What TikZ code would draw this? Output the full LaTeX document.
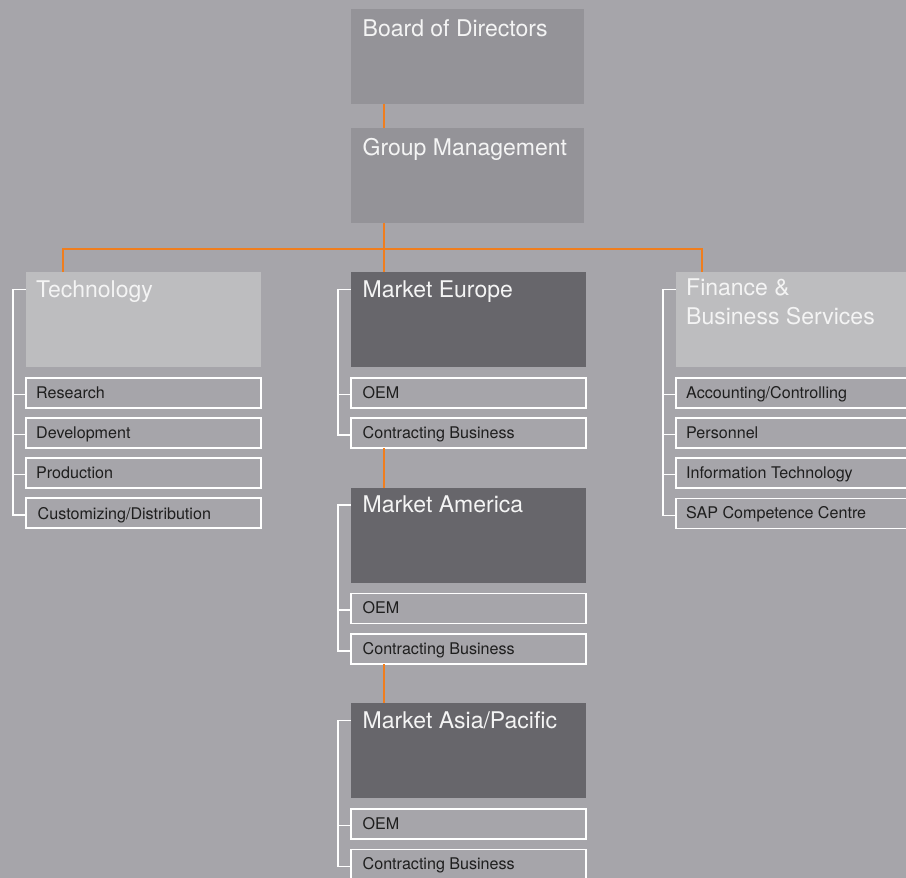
\documentclass[tikz,border=0pt]{standalone}
\usepackage{fontspec}
\setmainfont{TeX Gyre Heros}
\usetikzlibrary{positioning}
\definecolor{bg}{HTML}{A6A5AA}
\definecolor{topbox}{HTML}{949398}
\definecolor{lightbox}{HTML}{BDBDBF}
\definecolor{darkbox}{HTML}{67666B}
\definecolor{orangeline}{HTML}{F07E1E}
\definecolor{headtxt}{HTML}{F4F4F4}
\definecolor{subtxt}{HTML}{1E1E1E}
\tikzset{
  x=1pt, y=-1pt,
  bigbox/.style={rectangle, anchor=north west, inner sep=0pt, outer sep=0pt,
    minimum width=#1, minimum height=95pt},
  subbox/.style={rectangle, anchor=north west, inner sep=0pt, outer sep=0pt,
    draw=white, line width=1.3pt, fill=bg, minimum width=#1, minimum height=30pt},
  headtext/.style={anchor=base west, inner sep=0pt, text=headtxt,
    font=\fontsize{23}{28.6}\selectfont, align=left},
  subtext/.style={anchor=base west, inner sep=0pt, text=subtxt,
    font=\fontsize{16.1}{19}\selectfont},
  orangeconn/.style={draw=orangeline, line width=2pt},
  wline/.style={draw=white, line width=1.3pt},
}
\begin{document}
\begin{tikzpicture}
\useasboundingbox (0,0) rectangle (906,878);
\clip (0,0) rectangle (906,878);
\fill[bg] (0,0) rectangle (906,878);

% ---- top boxes
\node[bigbox=233, fill=topbox] (bod) at (351,9) {};
\node[headtext] (bodt) at (362.5,36) {Board of Directors};
\node[bigbox=233, fill=topbox] (gm) at (351,128) {};
\node[headtext] (gmt) at (362.5,155) {Group Management};

% ---- Technology column
\node[bigbox=235, fill=lightbox] (tech) at (26,272) {};
\node[headtext] (techt) at (36,297) {Technology};
\node[subbox=235] (t1) at (26,378) {};
\node[subtext] at (36,398.3) {Research};
\node[subbox=235] (t2) at (26,418) {};
\node[subtext] at (36,438.3) {Development};
\node[subbox=235] (t3) at (26,458) {};
\node[subtext] at (36,478.3) {Production};
\node[subbox=235] (t4) at (26,498) {};
\node[subtext] at (37.5,519) {Customizing/Distribution};

% ---- Market Europe
\node[bigbox=235, fill=darkbox] (eu) at (351,272) {};
\node[headtext] (eut) at (362.5,297) {Market Europe};
\node[subbox=235] (e1) at (351,378) {};
\node[subtext] at (362.5,398.3) {OEM};
\node[subbox=235] (e2) at (351,418) {};
\node[subtext] at (362.5,438.3) {Contracting Business};

% ---- Market America
\node[bigbox=235, fill=darkbox] (am) at (351,487.5) {};
\node[headtext] (amt) at (362.5,512.7) {Market America};
\node[subbox=235] (a1) at (351,593.5) {};
\node[subtext] at (362.5,613.8) {OEM};
\node[subbox=235] (a2) at (351,634) {};
\node[subtext] at (362.5,654.3) {Contracting Business};

% ---- Market Asia/Pacific
\node[bigbox=235, fill=darkbox] (as) at (351,703) {};
\node[headtext] (ast) at (362.5,728.2) {Market Asia/Pacific};
\node[subbox=235] (p1) at (351,809) {};
\node[subtext] at (362.5,829.3) {OEM};
\node[subbox=235] (p2) at (351,849.3) {};
\node[subtext] at (362.5,869.6) {Contracting Business};

% ---- Finance
\node[bigbox=250, fill=lightbox] (fin) at (676,272) {};
\node[headtext] (fint) at (686,324.3) {Finance \&\\Business Services};
\node[subbox=250] (f1) at (676,378) {};
\node[subtext] at (686,398.3) {Accounting/Controlling};
\node[subbox=250] (f2) at (676,418) {};
\node[subtext] at (686,438.3) {Personnel};
\node[subbox=250] (f3) at (676,458) {};
\node[subtext] at (686,478.3) {Information Technology};
\node[subbox=250] (f4) at (676,498.3) {};
\node[subtext] at (686,518.6) {SAP Competence Centre};

% ---- orange connectors
\coordinate (hub) at (384,249);
\draw[orangeconn] ([xshift=33pt]bod.south west) -- ([xshift=33pt]gm.north west);
\draw[orangeconn] ([xshift=33pt]gm.south west) -- ([xshift=33pt]eu.north west);
\draw[orangeconn] ([xshift=37pt]tech.north west) |- (hub) -| ([xshift=26pt]fin.north west);
\draw[orangeconn] ([xshift=33pt]e2.south west) -- ([xshift=33pt]am.north west);
\draw[orangeconn] ([xshift=33pt]a2.south west) -- ([xshift=33pt]as.north west);

% ---- white brackets
\foreach \b/\s in {tech/t4, eu/e2, am/a2, as/p2, fin/f4}{
  \draw[wline] ([yshift=-17.5pt]\b.north west) -- ++(-13,0) |- ([yshift=-2pt]\s.west);
}
\foreach \s in {t1,t2,t3,e1,a1,p1,f1,f2,f3}{
  \draw[wline] ([yshift=-1.5pt]\s.west) -- ++(-13,0);
}
\end{tikzpicture}
\end{document}
